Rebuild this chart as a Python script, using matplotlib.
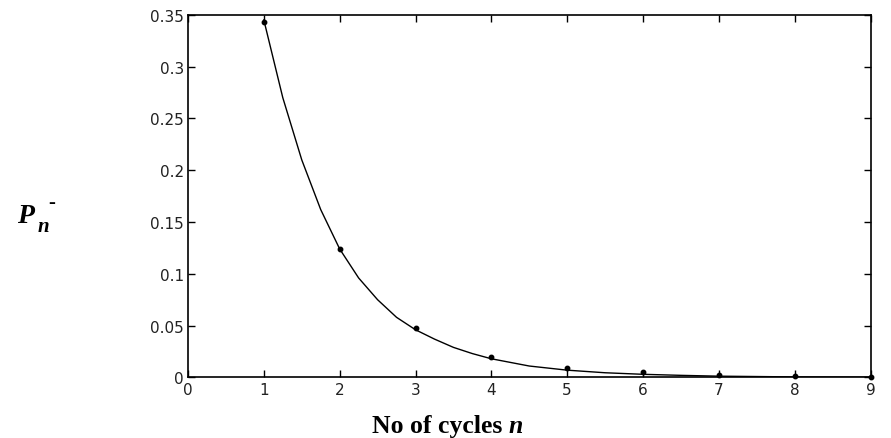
import matplotlib
matplotlib.use("Agg")
import matplotlib.pyplot as plt

# measured probabilities per cycle
cycles = [1, 2, 3, 4, 5, 6, 7, 8, 9]
p_meas = [0.343, 0.124, 0.048, 0.020, 0.0095, 0.0055, 0.0025, 0.0015, 0.0005]

# fitted curve, sampled along n
fit_n = [1, 1.25, 1.5, 1.75, 2, 2.25, 2.5, 2.75, 3, 3.25, 3.5, 3.75, 4,
         4.5, 5, 5.5, 6, 6.5, 7, 8, 9]
fit_p = [0.345, 0.270, 0.210, 0.162, 0.124, 0.096, 0.075, 0.058, 0.046,
         0.037, 0.029, 0.023, 0.018, 0.011, 0.007, 0.0045, 0.003, 0.002,
         0.0012, 0.0005, 0.0002]

xticks = list(range(10))
yticks = [0, 0.05, 0.1, 0.15, 0.2, 0.25, 0.3, 0.35]
ytick_labels = ["0", "0.05", "0.1", "0.15", "0.2", "0.25", "0.3", "0.35"]

fig = plt.figure(figsize=(8.91, 4.39), dpi=100)
ax = fig.add_axes([0.211, 0.138, 0.766, 0.826])

ax.plot(fit_n, fit_p, color="black", lw=1.0)
ax.plot(cycles, p_meas, "o", color="black", ms=3.2, clip_on=False)

ax.set_xlim(0, 9)
ax.set_ylim(0, 0.35)
ax.set_xticks(xticks)
ax.set_yticks(yticks)
ax.set_yticklabels(ytick_labels)
ax.tick_params(direction="in", top=True, right=True, length=5, width=1,
               labelsize=11, labelcolor="#222222", pad=3)
for s in ax.spines.values():
    s.set_linewidth(1.2)

# x axis title: "No of cycles" upright, n italic
fig.text(0.571, 0.014, "No of cycles ", family="Liberation Serif", weight="bold",
         fontsize=18.5, ha="right", va="baseline")
fig.text(0.571, 0.014, "n", family="Liberation Serif", weight="bold",
         style="italic", fontsize=18.5, ha="left", va="baseline")

# y axis symbol P_n^-
fig.text(0.019, 0.492, "P", family="Liberation Serif", weight="bold",
         style="italic", fontsize=20, ha="left", va="baseline")
fig.text(0.042, 0.472, "n", family="Liberation Serif", weight="bold",
         style="italic", fontsize=15, ha="left", va="baseline")
fig.text(0.054, 0.538, "-", family="Liberation Serif", weight="bold",
         fontsize=15, ha="left", va="center")

fig.savefig("out.png", dpi=100)
